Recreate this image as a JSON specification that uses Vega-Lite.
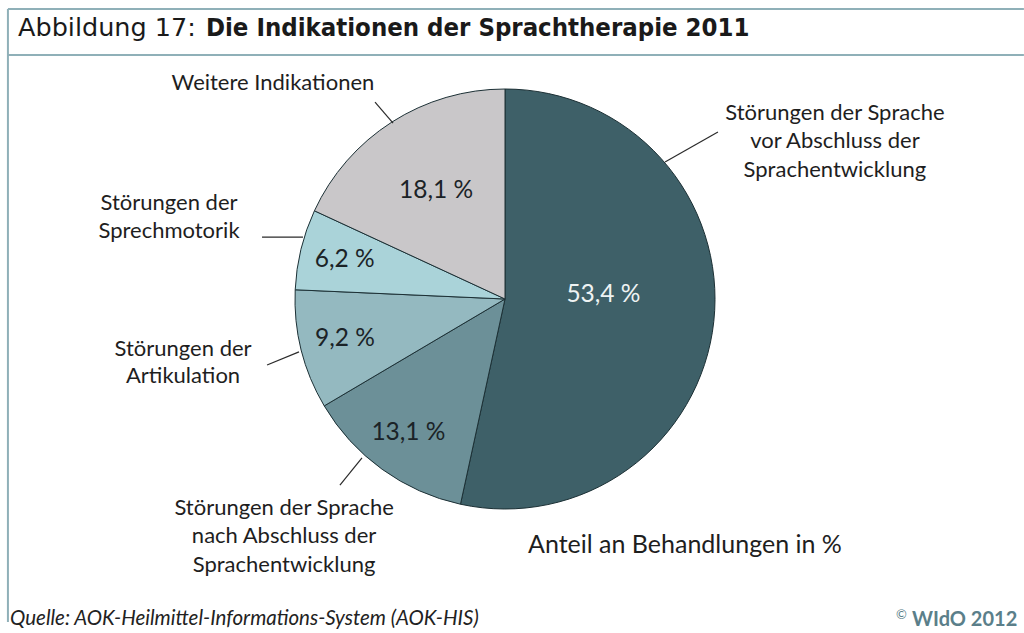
{
  "$schema": "https://vega.github.io/schema/vega-lite/v6.json",
  "autosize": "none",
  "width": 1010,
  "height": 598,
  "padding": {"left": 0, "top": 0, "right": 14, "bottom": 35},
  "background": "white",
  "view": {"stroke": null},
  "datasets": {
    "slices": [
      {"name": "Störungen der Sprache vor Abschluss der Sprachentwicklung", "label": "53,4 %", "value": 53.4, "order": 1},
      {"name": "Störungen der Sprache nach Abschluss der Sprachentwicklung", "label": "13,1 %", "value": 13.1, "order": 2},
      {"name": "Störungen der Artikulation", "label": "9,2 %", "value": 9.2, "order": 3},
      {"name": "Störungen der Sprechmotorik", "label": "6,2 %", "value": 6.2, "order": 4},
      {"name": "Weitere Indikationen", "label": "18,1 %", "value": 18.1, "order": 5}
    ],
    "frame": [
      {"x": -2.367, "x2": 2.471, "y": 1.381, "y2": 1.381},
      {"x": -2.367, "x2": 2.471, "y": 1.162, "y2": 1.162},
      {"x": -2.367, "x2": -2.367, "y": 1.381, "y2": -1.538}
    ],
    "leaders": [
      {"x": -0.619, "y": 0.938, "x2": -0.533, "y2": 0.838},
      {"x": 1.014, "y": 0.795, "x2": 0.762, "y2": 0.652},
      {"x": -1.157, "y": 0.295, "x2": -0.962, "y2": 0.295},
      {"x": -1.133, "y": -0.314, "x2": -0.981, "y2": -0.252},
      {"x": -0.786, "y": -0.886, "x2": -0.681, "y2": -0.757}
    ],
    "outer": [
      {"t": "Weitere Indikationen", "x": -1.105, "y": 0.995},
      {"t": "Störungen der Sprache", "x": 1.571, "y": 0.852},
      {"t": "vor Abschluss der", "x": 1.571, "y": 0.719},
      {"t": "Sprachentwicklung", "x": 1.571, "y": 0.581},
      {"t": "Störungen der", "x": -1.6, "y": 0.424},
      {"t": "Sprechmotorik", "x": -1.6, "y": 0.29},
      {"t": "Störungen der", "x": -1.533, "y": -0.271},
      {"t": "Artikulation", "x": -1.533, "y": -0.4},
      {"t": "Störungen der Sprache", "x": -1.052, "y": -1.029},
      {"t": "nach Abschluss der", "x": -1.052, "y": -1.162},
      {"t": "Sprachentwicklung", "x": -1.052, "y": -1.3}
    ],
    "axisnote": [{"t": "Anteil an Behandlungen in %", "x": 0.857, "y": -1.21}],
    "title1": [{"t": "Abbildung 17:", "x": -2.319, "y": 1.252}],
    "title2": [{"t": "Die Indikationen der Sprachtherapie 2011", "x": -1.424, "y": 1.252}],
    "source": [{"t": "Quelle: AOK-Heilmittel-Informations-System (AOK-HIS)", "x": -2.357, "y": -1.552}],
    "copy": [{"t": "©", "x": 1.862, "y": -1.524}],
    "brand": [{"t": "WIdO 2012", "x": 1.938, "y": -1.557}]
  },
  "layer": [
    {
      "data": {"name": "slices"},
      "mark": {"type": "arc", "radius": 210, "stroke": "#1c3035", "strokeWidth": 1},
      "encoding": {
        "theta": {"field": "value", "type": "quantitative", "stack": true},
        "order": {"field": "order", "type": "quantitative"},
        "color": {
          "field": "name", "type": "nominal", "legend": null,
          "scale": {
            "domain": ["Störungen der Sprache vor Abschluss der Sprachentwicklung", "Störungen der Sprache nach Abschluss der Sprachentwicklung", "Störungen der Artikulation", "Störungen der Sprechmotorik", "Weitere Indikationen"],
            "range": ["#3e6068", "#6c9098", "#94b9c0", "#aad3d9", "#c9c7c9"]
          }
        }
      }
    },
    {
      "data": {"name": "slices"},
      "mark": {"type": "text", "radius": 165, "font": "Lato", "fontSize": 24.5, "baseline": "middle", "align": "center", "color": "#1b2327"},
      "encoding": {
        "theta": {"field": "value", "type": "quantitative", "stack": true},
        "order": {"field": "order", "type": "quantitative"},
        "text": {"field": "label"},
        "opacity": {"condition": {"test": "datum.order >= 2 && datum.order <= 4", "value": 1}, "value": 0}
      }
    },
    {
      "data": {"name": "slices"},
      "mark": {"type": "text", "radius": 128, "font": "Lato", "fontSize": 24.5, "baseline": "middle", "align": "center", "color": "#1b2327"},
      "encoding": {
        "theta": {"field": "value", "type": "quantitative", "stack": true},
        "order": {"field": "order", "type": "quantitative"},
        "text": {"field": "label"},
        "opacity": {"condition": {"test": "datum.order == 5", "value": 1}, "value": 0}
      }
    },
    {
      "data": {"name": "slices"},
      "mark": {"type": "text", "radius": 99, "dy": -15, "font": "Lato", "fontSize": 24.5, "baseline": "middle", "align": "center", "color": "#eef3f3"},
      "encoding": {
        "theta": {"field": "value", "type": "quantitative", "stack": true},
        "order": {"field": "order", "type": "quantitative"},
        "text": {"field": "label"},
        "opacity": {"condition": {"test": "datum.order == 1", "value": 1}, "value": 0}
      }
    },
    {
      "data": {"name": "frame"},
      "mark": {"type": "rule", "color": "#8fb0b8", "strokeWidth": 2},
      "encoding": {
        "x": {"field": "x", "type": "quantitative", "scale": {"domain": [-2.40476, 2.40476], "nice": false, "zero": false}, "axis": null},
        "x2": {"field": "x2"},
        "y": {"field": "y", "type": "quantitative", "scale": {"domain": [-1.42381, 1.42381], "nice": false, "zero": false}, "axis": null},
        "y2": {"field": "y2"}
      }
    },
    {
      "data": {"name": "leaders"},
      "mark": {"type": "rule", "color": "#2a2a2a", "strokeWidth": 1.2},
      "encoding": {
        "x": {"field": "x", "type": "quantitative", "axis": null},
        "x2": {"field": "x2"},
        "y": {"field": "y", "type": "quantitative", "axis": null},
        "y2": {"field": "y2"}
      }
    },
    {
      "data": {"name": "outer"},
      "mark": {"type": "text", "font": "Lato", "fontSize": 22, "align": "center", "baseline": "alphabetic", "color": "#1e1e1e"},
      "encoding": {
        "x": {"field": "x", "type": "quantitative", "axis": null},
        "y": {"field": "y", "type": "quantitative", "axis": null},
        "text": {"field": "t"}
      }
    },
    {
      "data": {"name": "axisnote"},
      "mark": {"type": "text", "font": "Lato", "fontSize": 25, "align": "center", "baseline": "alphabetic", "color": "#1e1e1e"},
      "encoding": {
        "x": {"field": "x", "type": "quantitative", "axis": null},
        "y": {"field": "y", "type": "quantitative", "axis": null},
        "text": {"field": "t"}
      }
    },
    {
      "data": {"name": "title1"},
      "mark": {"type": "text", "font": "DejaVu Sans", "fontSize": 25.5, "align": "left", "baseline": "alphabetic", "color": "#1a1a1a"},
      "encoding": {
        "x": {"field": "x", "type": "quantitative", "axis": null},
        "y": {"field": "y", "type": "quantitative", "axis": null},
        "text": {"field": "t"}
      }
    },
    {
      "data": {"name": "title2"},
      "mark": {"type": "text", "font": "DejaVu Sans Condensed", "fontSize": 25.5, "fontWeight": "bold", "align": "left", "baseline": "alphabetic", "color": "#1a1a1a"},
      "encoding": {
        "x": {"field": "x", "type": "quantitative", "axis": null},
        "y": {"field": "y", "type": "quantitative", "axis": null},
        "text": {"field": "t"}
      }
    },
    {
      "data": {"name": "source"},
      "mark": {"type": "text", "font": "Lato", "fontSize": 20.5, "fontStyle": "italic", "align": "left", "baseline": "alphabetic", "color": "#222222"},
      "encoding": {
        "x": {"field": "x", "type": "quantitative", "axis": null},
        "y": {"field": "y", "type": "quantitative", "axis": null},
        "text": {"field": "t"}
      }
    },
    {
      "data": {"name": "copy"},
      "mark": {"type": "text", "font": "Lato", "fontSize": 13, "align": "left", "baseline": "alphabetic", "color": "#5b7f8a"},
      "encoding": {
        "x": {"field": "x", "type": "quantitative", "axis": null},
        "y": {"field": "y", "type": "quantitative", "axis": null},
        "text": {"field": "t"}
      }
    },
    {
      "data": {"name": "brand"},
      "mark": {"type": "text", "font": "Lato", "fontSize": 20, "fontWeight": "bold", "align": "left", "baseline": "alphabetic", "color": "#5b7f8a"},
      "encoding": {
        "x": {"field": "x", "type": "quantitative", "axis": null},
        "y": {"field": "y", "type": "quantitative", "axis": null},
        "text": {"field": "t"}
      }
    }
  ]
}
